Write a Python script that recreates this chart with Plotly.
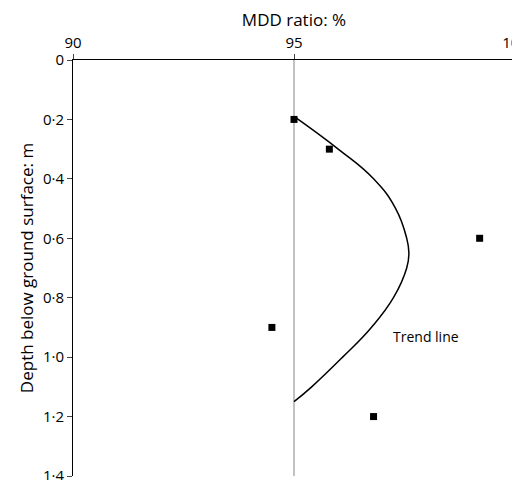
import plotly.graph_objects as go

depth_pts = [0.2, 0.3, 0.6, 0.9, 1.2]
mdd_pts = [95.0, 95.8, 99.2, 94.5, 96.8]

trend_depth = [0.19, 0.3, 0.4, 0.5, 0.6, 0.65, 0.7, 0.8, 0.9, 1.0, 1.1, 1.15]
trend_mdd = [95.0, 96.0, 96.8, 97.3, 97.55, 97.6, 97.55, 97.25, 96.75, 96.1, 95.4, 95.0]

y_ticks = [0, 0.2, 0.4, 0.6, 0.8, 1.0, 1.2, 1.4]
y_labels = ["0", "0·2", "0·4", "0·6", "0·8", "1·0", "1·2", "1·4"]
x_ticks = [90, 95, 100]

fig = go.Figure()
fig.add_trace(go.Scatter(x=[95, 95], y=[0, 1.4], mode="lines",
                         line=dict(color="#999999", width=1.2), showlegend=False))
fig.add_trace(go.Scatter(x=trend_mdd, y=trend_depth, mode="lines",
                         line=dict(color="black", width=1.5, shape="spline", smoothing=1.3),
                         showlegend=False))
fig.add_trace(go.Scatter(x=mdd_pts, y=depth_pts, mode="markers",
                         marker=dict(symbol="square", size=7, color="black"), showlegend=False))
fig.add_annotation(x=97.2, y=0.93, text="Trend line", showarrow=False,
                   xanchor="left", font=dict(size=14, color="black"))

fig.update_layout(
    width=520, height=480, margin=dict(l=65, r=13, t=52, b=12),
    paper_bgcolor="white", plot_bgcolor="white",
    font=dict(family="Open Sans", size=14, color="black"),
    xaxis=dict(side="top", range=[90, 100], tickvals=x_ticks, ticks="outside",
               ticklen=5, showline=True, linecolor="black", showgrid=False,
               zeroline=False, automargin=False, tickfont=dict(size=15),
               title=dict(text="MDD ratio: %", standoff=4)),
    yaxis=dict(range=[1.4, 0], tickvals=y_ticks, ticktext=y_labels, ticks="outside",
               ticklen=5, showline=True, linecolor="black", showgrid=False,
               zeroline=False, automargin=False, tickfont=dict(size=15),
               title=dict(text="Depth below ground surface: m", standoff=4)),
)
fig.write_html("out.html")
